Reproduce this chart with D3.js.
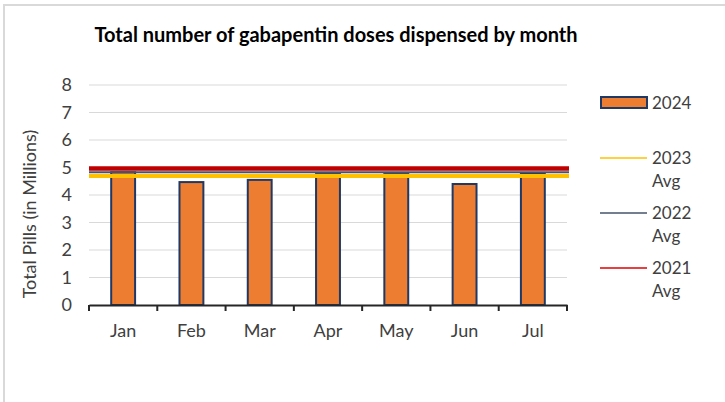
<!DOCTYPE html>
<html>
<head>
<meta charset="utf-8">
<script src="https://cdn.jsdelivr.net/npm/d3@7"></script>
<style>
  body { margin: 0; background: #fff; }
  text { font-family: Lato, "Open Sans", sans-serif; fill: #404040; }
</style>
</head>
<body>
<div id="chart"></div>
<script>
// data
var months = ["Jan", "Feb", "Mar", "Apr", "May", "Jun", "Jul"];
var doses2024 = [4.83, 4.47, 4.55, 4.76, 4.76, 4.4, 4.8];
var avgNames = ["2023", "2022", "2021"];
var avgValues = [4.69, 4.83, 4.96];
var avgColors = ["#FFC000", "#44546A", "#C00000"];
var yTicks = [0, 1, 2, 3, 4, 5, 6, 7, 8];

var W = 725, H = 402;
var svg = d3.select("#chart").append("svg")
  .attr("width", W)
  .attr("height", H);

// outer chart frame (only top/left are visible)
svg.append("rect")
  .attr("x", 4).attr("y", 5)
  .attr("width", W + 10).attr("height", H + 10)
  .attr("fill", "none")
  .attr("stroke", "#d9d9d9")
  .attr("stroke-width", 2);

var x = d3.scaleBand()
  .domain(months)
  .range([89, 567])
  .paddingInner(0.65)
  .paddingOuter(0.325);

var y = d3.scaleLinear()
  .domain([0, 8])
  .range([305, 85]);

// gridlines
svg.append("g")
  .selectAll("line")
  .data(yTicks.slice(1))
  .enter().append("line")
  .attr("x1", 89).attr("x2", 567)
  .attr("y1", d => y(d)).attr("y2", d => y(d))
  .attr("stroke", "#d9d9d9")
  .attr("stroke-width", 1);

// y tick labels
svg.append("g")
  .selectAll("text")
  .data(yTicks)
  .enter().append("text")
  .attr("x", 72)
  .attr("y", d => y(d))
  .attr("dy", "0.35em")
  .attr("text-anchor", "end")
  .style("font-size", "18px")
  .text(d => d);

// bars
svg.append("g")
  .selectAll("rect")
  .data(doses2024)
  .enter().append("rect")
  .attr("x", (d, i) => x(months[i]))
  .attr("y", d => y(d))
  .attr("width", x.bandwidth())
  .attr("height", d => y(0) - y(d))
  .attr("fill", "#ED7D31")
  .attr("stroke", "#203864")
  .attr("stroke-width", 2);

// average lines
var lineW = [4, 2, 4.5];
svg.append("g")
  .selectAll("line")
  .data(avgValues)
  .enter().append("line")
  .attr("x1", 89).attr("x2", 569)
  .attr("y1", d => y(d)).attr("y2", d => y(d))
  .attr("stroke", (d, i) => avgColors[i])
  .attr("stroke-width", (d, i) => lineW[i]);

// x axis
var xAxis = svg.append("g")
  .attr("transform", "translate(0,305)")
  .call(d3.axisBottom(x).tickSize(0).tickPadding(19));
xAxis.select(".domain").attr("stroke", "#262626").attr("stroke-width", 2);
xAxis.selectAll("text").style("font-size", "18px").style("font-family", "Lato, sans-serif").attr("fill", "#404040");
var half = x.step() * x.paddingInner() / 2;
var bounds = months.map(m => x(m) - half).concat([x(months[6]) + x.bandwidth() + half]);
xAxis.selectAll(".xb")
  .data(bounds)
  .enter().append("line")
  .attr("class", "xb")
  .attr("x1", d => d).attr("x2", d => d)
  .attr("y1", 0).attr("y2", 6)
  .attr("stroke", "#262626")
  .attr("stroke-width", 2);

// y axis title
svg.append("text")
  .attr("transform", "translate(36,214) rotate(-90)")
  .attr("text-anchor", "middle")
  .style("font-size", "18px")
  .text("Total Pills (in Millions)");

// title
svg.append("text")
  .attr("x", 336)
  .attr("y", 42)
  .attr("text-anchor", "middle")
  .style("font-size", "20px")
  .style("font-weight", "bold")
  .style("fill", "#000")
  .text("Total number of gabapentin doses dispensed by month");

// legend
var lg = svg.append("g");
lg.append("rect")
  .attr("x", 601).attr("y", 97)
  .attr("width", 46).attr("height", 11)
  .attr("fill", "#ED7D31")
  .attr("stroke", "#203864")
  .attr("stroke-width", 2);
lg.append("text")
  .attr("x", 652).attr("y", 103)
  .attr("dy", "0.35em")
  .style("font-size", "17px")
  .text("2024");

var legY = [158, 213, 268];
avgNames.forEach(function(n, i) {
  lg.append("line")
    .attr("x1", 600).attr("x2", 647)
    .attr("y1", legY[i]).attr("y2", legY[i])
    .attr("stroke", avgColors[i] == "#C00000" ? "#E00000" : avgColors[i])
    .attr("stroke-width", 1.5);
  lg.append("text")
    .attr("x", 652).attr("y", legY[i])
    .attr("dy", "0.35em")
    .style("font-size", "17px")
    .text(n);
  lg.append("text")
    .attr("x", 652).attr("y", legY[i] + 23)
    .attr("dy", "0.35em")
    .style("font-size", "17px")
    .text("Avg");
});
</script>
</body>
</html>
